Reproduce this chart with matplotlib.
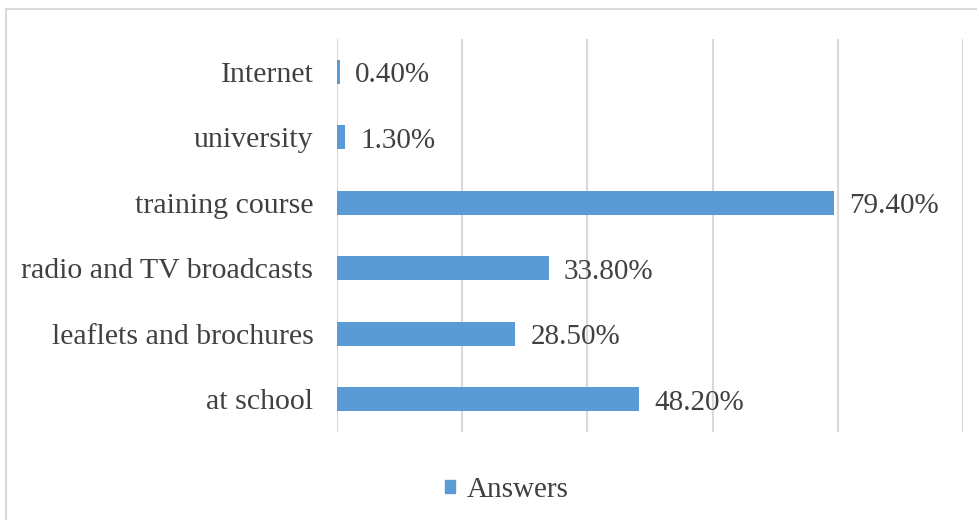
import matplotlib.pyplot as plt
from matplotlib.lines import Line2D
from matplotlib.patches import Patch

categories = ['at school', 'leaflets and brochures', 'radio and TV broadcasts',
              'training course', 'university', 'Internet']
answers = [48.2, 28.5, 33.8, 79.4, 1.3, 0.4]

bar_color = '#5B9BD5'
text_color = '#404040'
grid_color = '#D9D9D9'

plt.rcParams['font.family'] = ['Liberation Serif', 'DejaVu Serif']

fig = plt.figure(figsize=(9.78, 5.2), dpi=100)
ax = fig.add_axes([337 / 978, 1 - 432 / 520, (963 - 337) / 978, (432 - 39) / 520])

y = range(len(categories))
bars = ax.barh(y, answers, height=0.37, color=bar_color, zorder=3)

for rect, val in zip(bars, answers):
    ax.annotate(f'{val:.2f}%', (rect.get_width(), rect.get_y() + rect.get_height() / 2),
                xytext=(11, -2.5), textcoords='offset points', va='center', ha='left',
                fontsize=21, color=text_color)

ax.set_xlim(0, 100)
ax.set_ylim(-0.5, len(categories) - 0.5)
ax.set_xticks(range(0, 101, 20))
ax.set_xticklabels([])
ax.set_yticks(list(y))
ax.set_yticklabels(categories, fontsize=21.5, color=text_color)
ax.tick_params(length=0, pad=17)
ax.grid(axis='x', color=grid_color, linewidth=1.5, zorder=0)
for s in ax.spines.values():
    s.set_visible(False)

# chart area frame (left and top edges)
fig.add_artist(Line2D([6.5 / 978, 6.5 / 978], [0, 1 - 8.5 / 520], transform=fig.transFigure,
                      color=grid_color, linewidth=1.5))
fig.add_artist(Line2D([6.5 / 978, 1], [1 - 8.5 / 520, 1 - 8.5 / 520], transform=fig.transFigure,
                      color=grid_color, linewidth=1.5))

fig.legend(handles=[Patch(color=bar_color, label='Answers')], loc='center',
           bbox_to_anchor=(507 / 978, 1 - 490 / 520), frameon=False, fontsize=21,
           labelcolor=text_color, handlelength=0.35, handleheight=0.35, handletextpad=0.4)

fig.savefig('out.png', dpi=100)
